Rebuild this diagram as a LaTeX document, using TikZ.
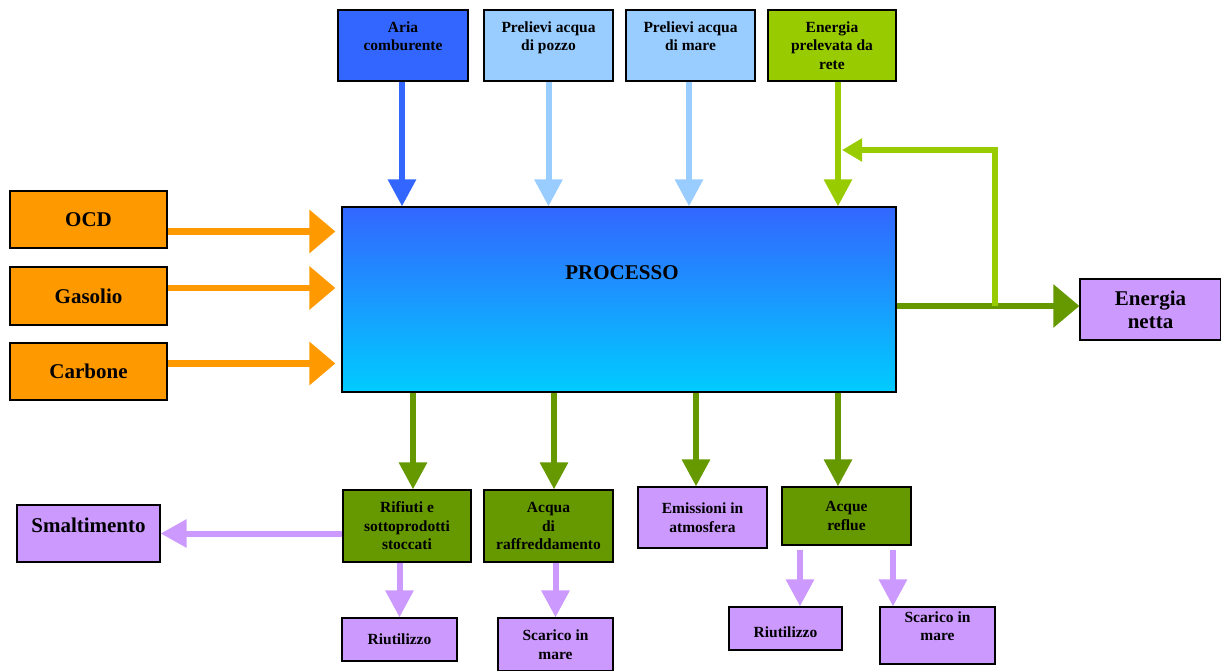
\documentclass[tikz,border=0pt]{standalone}
\usepackage{fontspec}
\setmainfont{Liberation Serif}
\usepackage{tikz}
\usetikzlibrary{positioning,arrows.meta}
\definecolor{procBlue}{HTML}{3366FF}
\definecolor{procCyan}{HTML}{00CCFF}
\definecolor{waterBlue}{HTML}{99CCFF}
\definecolor{gridGreen}{HTML}{99CC00}
\definecolor{fuelOrange}{HTML}{FF9900}
\definecolor{outGreen}{HTML}{669900}
\definecolor{wasteLilac}{HTML}{CC99FF}

\begin{document}
\begin{tikzpicture}[x=1pt, y=-1pt,
    blk/.style={draw=black, line width=1.2pt, align=center, inner sep=0pt,
                font=\fontsize{15.5}{18.5}\selectfont\bfseries},
    bigblk/.style={blk, font=\fontsize{21}{23}\selectfont\bfseries},
    arr/.style={line width=6pt, -{Triangle[width=27pt,length=27pt]}},
    sidearr/.style={line width=6.5pt, -{Triangle[width=42pt,length=26pt]}},
    fbarr/.style={line width=6pt, -{Triangle[width=22pt,length=20pt]}}
  ]
  \useasboundingbox (0,0) rectangle (1221,671);

  % inputs from above
  \node[blk, fill=procBlue, minimum width=130pt, minimum height=71pt] (aria) at (403,45.5) {Aria\\comburente\\~};
  \node[blk, fill=waterBlue, minimum width=129pt, minimum height=71pt] (pozzo) at (548.5,45.5) {Prelievi acqua\\di pozzo\\~};
  \node[blk, fill=waterBlue, minimum width=129pt, minimum height=71pt] (mare) at (690.5,45.5) {Prelievi acqua\\di mare\\~};
  \node[blk, fill=gridGreen, minimum width=128pt, minimum height=71pt] (rete) at (832,45.5) {Energia\\prelevata da\\rete};

  % fuels
  \node[bigblk, fill=fuelOrange, minimum width=157pt, minimum height=57pt] (ocd) at (88.5,219.5) {OCD};
  \node[bigblk, fill=fuelOrange, minimum width=157pt, minimum height=58pt] (gasolio) at (88.5,296) {Gasolio};
  \node[bigblk, fill=fuelOrange, minimum width=157pt, minimum height=57pt] (carbone) at (88.5,371.5) {Carbone};

  % process
  \node[draw=black, line width=1.2pt, top color=procBlue, bottom color=procCyan,
        minimum width=554pt, minimum height=185pt] (proc) at (619,299.5) {};
  \node[font=\fontsize{21}{23}\selectfont\bfseries] (proctext) at (622,273) {PROCESSO};

  \node[bigblk, fill=wasteLilac, minimum width=141pt, minimum height=61pt] (netta) at (1150.5,309.5) {Energia\\netta};

  % outputs
  \node[blk, fill=outGreen, minimum width=128pt, minimum height=72pt] (rifiuti) at (407,526) {Rifiuti e\\sottoprodotti\\stoccati};
  \node[blk, fill=outGreen, minimum width=129pt, minimum height=72pt] (acqua) at (548.5,526) {Acqua\\di\\raffreddamento};
  \node[blk, fill=wasteLilac, minimum width=129pt, minimum height=61pt] (emiss) at (702.5,517.5) {Emissioni in\\atmosfera};
  \node[blk, fill=outGreen, minimum width=129pt, minimum height=58pt] (reflue) at (846.5,516) {Acque\\reflue};
  \node[bigblk, fill=wasteLilac, minimum width=143pt, minimum height=57pt] (smalt) at (88.5,533.5) {Smaltimento\\[-6pt]~};
  \node[blk, fill=wasteLilac, minimum width=115pt, minimum height=43pt] (riut1) at (399.5,639.5) {Riutilizzo};
  \node[blk, fill=wasteLilac, minimum width=115pt, minimum height=53pt] (scar1) at (555.5,644.5) {Scarico in\\mare};
  \node[blk, fill=wasteLilac, minimum width=113pt, minimum height=43pt] (riut2) at (785.5,628.5) {~\\Riutilizzo};
  \node[blk, fill=wasteLilac, minimum width=115pt, minimum height=57pt] (scar2) at (937.5,635.5) {Scarico in\\mare\\~};

  % arrows into the process
  \draw[arr, procBlue] ([xshift=-1pt]aria.south) -- ([xshift=-1pt]aria.south |- proc.north);
  \draw[arr, waterBlue] (pozzo.south) -- (pozzo.south |- proc.north);
  \draw[arr, waterBlue] ([xshift=-1.5pt]mare.south) -- ([xshift=-1.5pt]mare.south |- proc.north);
  \draw[arr, gridGreen] ([xshift=6pt]rete.south) -- ([xshift=6pt]rete.south |- proc.north);
  \draw[sidearr, fuelOrange, shorten >=6pt] ([yshift=-12pt]ocd.east) -- ([yshift=-12pt]ocd.east -| proc.west);
  \draw[sidearr, fuelOrange, shorten >=6pt] ([yshift=8pt]gasolio.east) -- ([yshift=8pt]gasolio.east -| proc.west);
  \draw[sidearr, fuelOrange, shorten >=6pt] ([yshift=8pt]carbone.east) -- ([yshift=8pt]carbone.east -| proc.west);

  % net energy and feedback
  \coordinate (fb) at (995,306);
  \draw[sidearr, outGreen, line width=6pt] ([yshift=-6.5pt]proc.east) -- ([yshift=-6.5pt]proc.east -| netta.west);
  \draw[fbarr, gridGreen] (fb) |- ([xshift=10pt]rete.south |- 0,150);

  % arrows out of the process
  \draw[arr, outGreen] ([xshift=6pt]rifiuti.north |- proc.south) -- ([xshift=6pt]rifiuti.north);
  \draw[arr, outGreen] ([xshift=5.5pt]acqua.north |- proc.south) -- ([xshift=5.5pt]acqua.north);
  \draw[arr, outGreen] ([xshift=-6.5pt]emiss.north |- proc.south) -- ([xshift=-6.5pt]emiss.north);
  \draw[arr, outGreen] ([xshift=-8.5pt]reflue.north |- proc.south) -- ([xshift=-8.5pt]reflue.north);

  % disposal and reuse
  \draw[arr, wasteLilac, -{Triangle[width=27pt,length=26pt]}] (rifiuti.west |- smalt.east) -- (smalt.east);
  \draw[arr, wasteLilac] (riut1.north |- rifiuti.south) -- (riut1.north);
  \draw[arr, wasteLilac] (scar1.north |- acqua.south) -- (scar1.north);
  \draw[arr, wasteLilac] ([xshift=-46.5pt,yshift=-4pt]reflue.south) -- ([xshift=-46.5pt]reflue.south |- riut2.north);
  \draw[arr, wasteLilac] ([xshift=46.5pt,yshift=-4pt]reflue.south) -- ([xshift=46.5pt]reflue.south |- scar2.north);
\end{tikzpicture}
\end{document}
